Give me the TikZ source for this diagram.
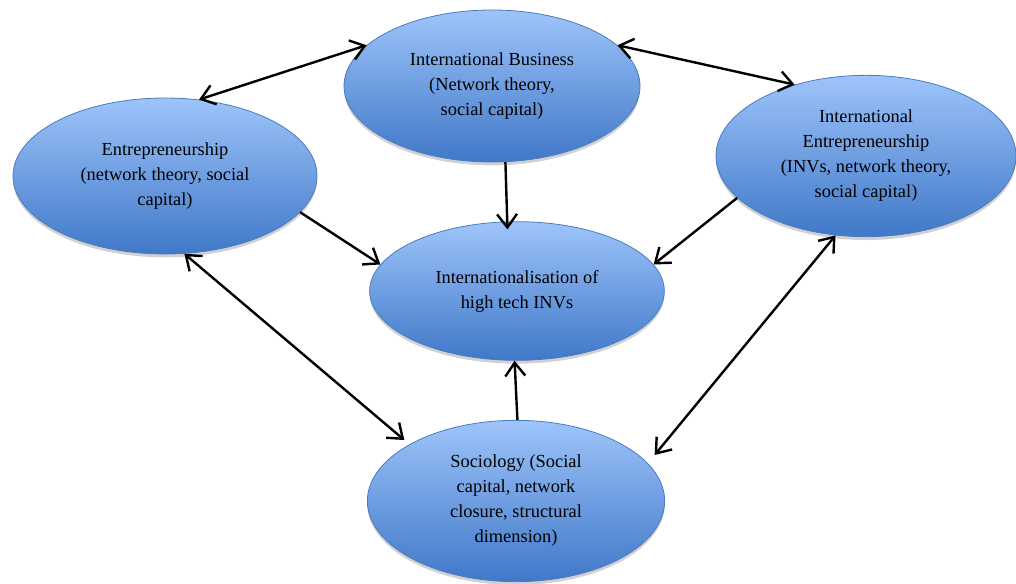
\documentclass[tikz,border=0pt]{standalone}
\usepackage{fontspec}
\setmainfont{Liberation Serif}
\usepackage{xcolor}
\usetikzlibrary{positioning, arrows.meta, shapes.geometric, shadows}

\definecolor{ovaltop}{RGB}{158,196,250}
\definecolor{ovalbottom}{RGB}{64,120,200}
\definecolor{ovalline}{RGB}{74,124,192}

\begin{document}
\begin{tikzpicture}[x=0.75pt, y=-0.75pt,
  topic/.style={ellipse, draw=ovalline, line width=0.6pt, top color=ovaltop, bottom color=ovalbottom,
    align=center, inner sep=0pt, font=\fontsize{13.8}{18.75}\selectfont,
    drop shadow={shadow xshift=0pt, shadow yshift=-2.5pt, opacity=0.18, fill=black}},
  link/.style={line width=1.8pt, -{Straight Barb[length=10pt,width=15pt]}},
  both/.style={line width=1.8pt, {Straight Barb[length=10pt,width=15pt]}-{Straight Barb[length=10pt,width=15pt]}}]
  \useasboundingbox (0,0) rectangle (1016,583);
  \draw
    (492,86) node[topic, minimum width=222pt, minimum height=114pt] (ib){International Business\\(Network theory,\\social capital)}
    (165,176) node[topic, minimum width=228pt, minimum height=117pt] (entre){Entrepreneurship\\(network theory, social\\capital)}
    (866,156) node[topic, minimum width=225pt, minimum height=121pt] (ie){International\\Entrepreneurship\\(INVs, network theory,\\social capital)}
    (517,291) node[topic, minimum width=221pt, minimum height=104pt] (intl){Internationalisation of\\high tech INVs}
    (516,501) node[topic, minimum width=223pt, minimum height=121pt] (socio){Sociology (Social\\capital, network\\closure, structural\\dimension)};
  \begin{scope}
    \draw[both] (entre.66) -- (ib.162);
    \draw[both] (ib.18.6) -- (ie.135.8);
    \draw[link, shorten >=-6pt] (ib.280.6) -- (intl.98.7);
    \draw[link] (entre.-15) -- (intl.169);
    \draw[link] (ie.198.9) -- (intl.11.4);
    \draw[both, shorten >=5pt] (entre.284.7) -- (socio.152);
    \draw[both, shorten >=8pt] (ie.249) -- (socio.16);
    \draw[link] (socio.89) -- (intl.268);
  \end{scope}
\end{tikzpicture}
\end{document}
